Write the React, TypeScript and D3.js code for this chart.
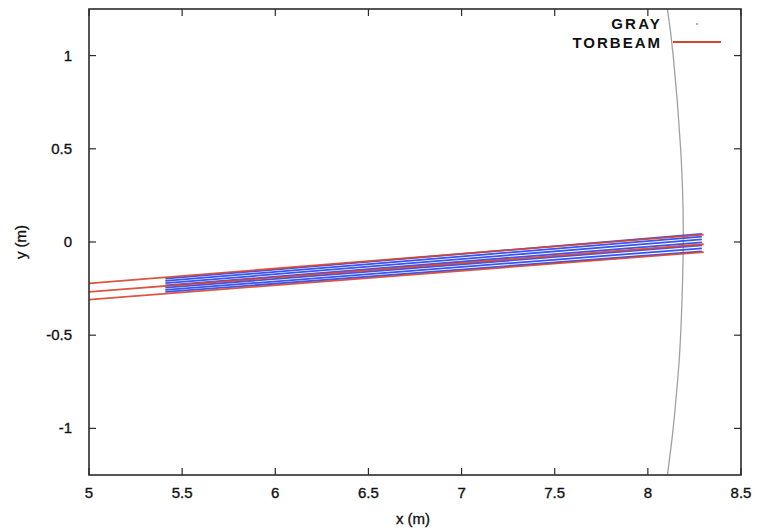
import React from "react";
import * as d3 from "d3";

const xTicks = [5, 5.5, 6, 6.5, 7, 7.5, 8, 8.5];
const yTicks = [-1, -0.5, 0, 0.5, 1];
const xTickLabels = ["5", "5.5", "6", "6.5", "7", "7.5", "8", "8.5"];
const yTickLabels = ["-1", "-0.5", "0", "0.5", "1"];

// Boundary (gray curve)
const wallX = [8.105, 8.136, 8.16, 8.176, 8.19, 8.176, 8.136, 8.105];
const wallY = [-1.25, -1.0, -0.74, -0.5, 0.0, 0.5, 1.0, 1.25];

// GRAY rays: start (x0,y0) end (x1,y1)
const grayX0 = [5.41, 5.41, 5.41, 5.41, 5.41, 5.41, 5.41];
const grayY0 = [-0.197, -0.209, -0.221, -0.233, -0.245, -0.257, -0.268];
const grayX1 = [8.29, 8.29, 8.29, 8.29, 8.29, 8.29, 8.29];
const grayY1 = [0.044, 0.029, 0.014, -0.002, -0.018, -0.034, -0.05];

// TORBEAM rays
const torX0 = [5.0, 5.0, 5.0];
const torY0 = [-0.222, -0.268, -0.309];
const torX1 = [8.3, 8.3, 8.3];
const torY1 = [0.04, -0.012, -0.054];

const W = 757, H = 531;
const FONT = "'Liberation Sans Narrow', 'Liberation Sans', Arial, sans-serif";

export default function App() {
  const x = d3.scaleLinear().domain([5, 8.5]).range([89, 741]);
  const y = d3.scaleLinear().domain([-1.25, 1.25]).range([475, 9]);
  const line = d3.line<[number, number]>().x(d => x(d[0])).y(d => y(d[1]));
  const wallPath = d3.line<[number, number]>().x(d => x(d[0])).y(d => y(d[1])).curve(d3.curveNatural)(
    wallX.map((v, i) => [v, wallY[i]] as [number, number])
  );
  const [x0, x1] = x.range();
  const [yb, yt] = y.range();
  const axisColor = "#2b2b2b";
  const txt = { fontFamily: FONT, fontSize: 15, fill: "#111", stroke: "#111", strokeWidth: 0.35 } as const;
  return (
    <div style={{ position: "absolute", left: 0, top: 0 }}>
      <svg width={W} height={H} style={{ display: "block", background: "#fff" }}>
        <defs>
          <clipPath id="plot">
            <rect x={x0} y={yt} width={x1 - x0} height={yb - yt} />
          </clipPath>
        </defs>
        <g clipPath="url(#plot)">
          <path d={wallPath || ""} fill="none" stroke="#a0a0a0" strokeWidth={1.3} />
          {grayY0.map((_, i) => (
            <path
              key={"g" + i}
              d={line([[grayX0[i], grayY0[i]], [grayX1[i], grayY1[i]]]) || ""}
              fill="none"
              stroke="#2341ee"
              strokeWidth={1.8}
              opacity={0.9}
            />
          ))}
          {torY0.map((_, i) => (
            <path
              key={"t" + i}
              d={line([[torX0[i], torY0[i]], [torX1[i], torY1[i]]]) || ""}
              fill="none"
              stroke="#d8432c"
              strokeWidth={1.8}
              opacity={0.9}
            />
          ))}
        </g>
        {/* ticks */}
        {xTicks.map((t, i) => (
          <g key={"xt" + i}>
            <line x1={x(t)} x2={x(t)} y1={yb} y2={yb - 7} stroke={axisColor} strokeWidth={1.2} />
            <line x1={x(t)} x2={x(t)} y1={yt} y2={yt + 7} stroke={axisColor} strokeWidth={1.2} />
            <text x={x(t)} y={498} textAnchor="middle" {...txt}>
              {xTickLabels[i]}
            </text>
          </g>
        ))}
        {yTicks.map((t, i) => (
          <g key={"yt" + i}>
            <line x1={x0} x2={x0 + 7} y1={y(t)} y2={y(t)} stroke={axisColor} strokeWidth={1.2} />
            <line x1={x1} x2={x1 - 7} y1={y(t)} y2={y(t)} stroke={axisColor} strokeWidth={1.2} />
            <text x={72} y={y(t) + 5} textAnchor="end" {...txt}>
              {yTickLabels[i]}
            </text>
          </g>
        ))}
        <rect x={x0} y={yt} width={x1 - x0} height={yb - yt} fill="none" stroke={axisColor} strokeWidth={1.6} />
        <text x={413} y={524} textAnchor="middle" {...txt}>x (m)</text>
        <text transform={`translate(26,242) rotate(-90)`} textAnchor="middle" {...txt}>
          y (m)
        </text>
        {/* legend */}
        <text x={662} y={29} textAnchor="end" fontFamily={FONT} fontSize={15} fontWeight="bold" letterSpacing={2.2} fill="#111">
          GRAY
        </text>
        <circle cx={697} cy={24} r={0.8} fill="#2341ee" />
        <text x={662} y={48} textAnchor="end" fontFamily={FONT} fontSize={15} fontWeight="bold" letterSpacing={2} fill="#111">
          TORBEAM
        </text>
        <line x1={673} x2={721} y1={42} y2={42} stroke="#d8432c" strokeWidth={1.8} />
      </svg>
    </div>
  );
}
